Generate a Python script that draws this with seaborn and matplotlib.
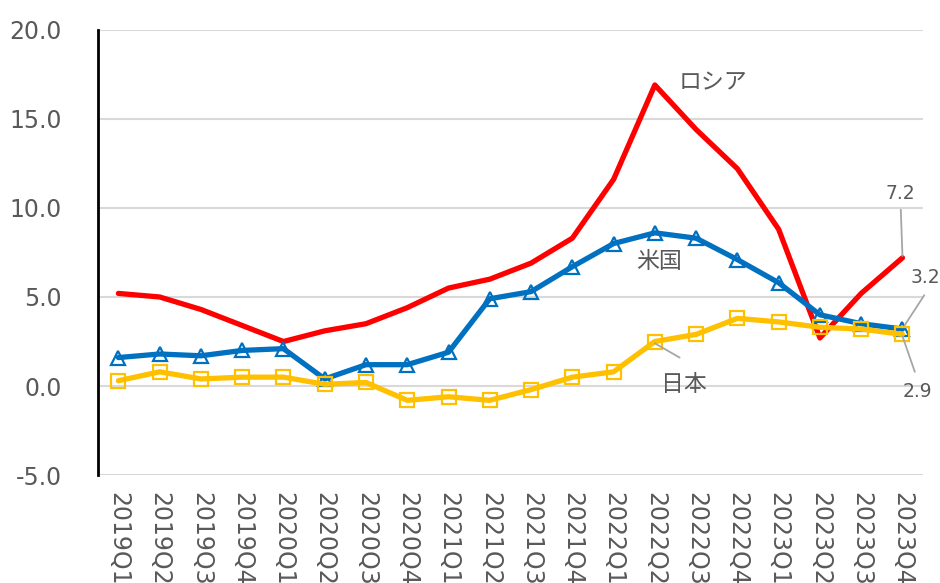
import numpy as np
import pandas as pd
import matplotlib
matplotlib.use("Agg")
import matplotlib.pyplot as plt
import seaborn as sns

# quarters on the x axis
quarters = ["2019Q1", "2019Q2", "2019Q3", "2019Q4",
            "2020Q1", "2020Q2", "2020Q3", "2020Q4",
            "2021Q1", "2021Q2", "2021Q3", "2021Q4",
            "2022Q1", "2022Q2", "2022Q3", "2022Q4",
            "2023Q1", "2023Q2", "2023Q3", "2023Q4"]

# values
russia = [5.2, 5.0, 4.3, 3.4, 2.5, 3.1, 3.5, 4.4, 5.5, 6.0,
          6.9, 8.3, 11.6, 16.9, 14.4, 12.2, 8.8, 2.7, 5.2, 7.2]
usa = [1.6, 1.8, 1.7, 2.0, 2.1, 0.4, 1.2, 1.2, 1.9, 4.9,
       5.3, 6.7, 8.0, 8.6, 8.3, 7.1, 5.8, 4.0, 3.5, 3.2]
japan = [0.3, 0.8, 0.4, 0.5, 0.5, 0.1, 0.2, -0.8, -0.6, -0.8,
         -0.2, 0.5, 0.8, 2.5, 2.9, 3.8, 3.6, 3.3, 3.2, 2.9]

y_ticks = [-5, 0, 5, 10, 15, 20]

df = pd.DataFrame({"quarter": quarters, "ロシア": russia, "米国": usa, "日本": japan})

sns.set_style("white")
plt.rcParams["font.family"] = ["DejaVu Sans", "Noto Sans CJK JP"]
grey = "#595959"
leader = "#A6A6A6"

fig = plt.figure(figsize=(9.4, 5.83), dpi=100)
ax = fig.add_axes([0.104, 0.185, 0.878, 0.764])

# red line, no markers
sns.lineplot(data=df, x="quarter", y="ロシア", color="#FF0000", lw=3.8, sort=False, ax=ax)
# blue line with hollow triangles
sns.lineplot(data=df, x="quarter", y="米国", color="#0070C0", lw=3.8, sort=False, ax=ax,
             marker="^", markersize=10, markerfacecolor="none",
             markeredgecolor="#0070C0", markeredgewidth=1.6)
# yellow line with hollow squares
sns.lineplot(data=df, x="quarter", y="日本", color="#FFC000", lw=3.8, sort=False, ax=ax,
             marker="s", markersize=10, markerfacecolor="none",
             markeredgecolor="#FFC000", markeredgewidth=1.6)

ax.set_xlim(-0.5, len(quarters) - 0.5)
ax.set_ylim(-5, 20)
ax.set_yticks(y_ticks)
ax.set_yticklabels([f"{v:.1f}" for v in y_ticks])
ax.set_xticks(range(len(quarters)))
ax.set_xticklabels(quarters, rotation=270)
ax.set_xlabel("")
ax.set_ylabel("")

ax.yaxis.grid(True, color="#D9D9D9", lw=1.5)
ax.set_axisbelow(True)
for s in ["top", "right", "bottom"]:
    ax.spines[s].set_visible(False)
ax.spines["left"].set_color("black")
ax.spines["left"].set_linewidth(2)

ax.tick_params(axis="y", length=0, pad=26, labelsize=17, labelcolor=grey)
ax.tick_params(axis="x", length=0, pad=12, labelsize=17, labelcolor=grey)

# series names
ax.text(14.4, 17.0, "ロシア", fontsize=16.5, color=grey, ha="center", va="center")
ax.text(13.1, 7.0, "米国", fontsize=16.5, color=grey, ha="center", va="center")
ax.text(13.7, 0.1, "日本", fontsize=16.5, color=grey, ha="center", va="center")
ax.plot([13.0, 13.6], [2.4, 1.6], color=leader, lw=1.3)

# end values with leader lines
ax.text(18.94, 10.8, f"{russia[-1]:.1f}", fontsize=13.5, color=grey, ha="center", va="center")
ax.plot([18.96, 19.0], [9.9, 7.3], color=leader, lw=1.3)
ax.text(19.55, 6.1, f"{usa[-1]:.1f}", fontsize=13.5, color=grey, ha="center", va="center",
        clip_on=False)
ax.plot([19.53, 19.05], [5.1, 3.4], color=leader, lw=1.3, clip_on=False)
ax.text(19.36, -0.3, f"{japan[-1]:.1f}", fontsize=13.5, color=grey, ha="center", va="center",
        clip_on=False)
ax.plot([19.3, 19.0], [0.8, 2.8], color=leader, lw=1.3)

fig.savefig("out.png", dpi=100)
